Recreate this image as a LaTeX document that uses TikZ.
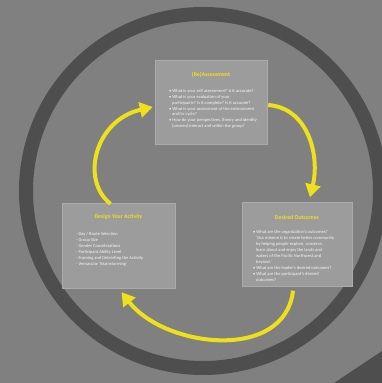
\documentclass[tikz,border=0pt]{standalone}
\usepackage{fontspec}
\setmainfont{Carlito}
\usetikzlibrary{arrows.meta}

\definecolor{bggray}{HTML}{808080}
\definecolor{ringgray}{HTML}{4E4E4E}
\definecolor{boxgray}{HTML}{9C9C9C}
\definecolor{cycleyellow}{HTML}{EEE01A}

\tikzset{
    box/.style={fill=boxgray, draw=boxgray!85!white, line width=.4pt, inner sep=0pt},
    boxtitle/.style={text=cycleyellow, font=\fontsize{5.8}{6.5}\selectfont\bfseries, inner sep=0pt},
    boxtext/.style={text=white!94!gray, font=\fontsize{4.5}{5.9}\selectfont, align=left, anchor=north west, inner sep=0pt},
    cyclearrow/.style={draw=cycleyellow, line width=4pt, -{Triangle[width=15pt,length=13pt]}},
}

\begin{document}
\begin{tikzpicture}[x=1pt, y=-1pt]
    \useasboundingbox (0,0) rectangle (382,383);
    \fill[bggray] (0,0) rectangle (382,383);

    % outer ring and the corner of the next one
    \draw[ringgray, line width=14pt] (203,191) circle (177pt);
    \fill[ringgray] (334,383) -- (382,351) -- (382,383) -- cycle;

    % the three stages
    \node[box, minimum width=112pt, minimum height=84pt] (reassess) at (211,102) {};
    \node[box, minimum width=113pt, minimum height=85pt] (design) at (118.5,245.5) {};
    \node[box, minimum width=110pt, minimum height=84pt] (outcomes) at (297,244.5) {};

    \node[boxtitle] (reassesstitle) at (211,75) {(Re)Assessment};
    \node[boxtitle] (designtitle) at (118.5,217) {Design Your Activity};
    \node[boxtitle] (outcomestitle) at (297,217) {Desired Outcomes};

    \node[boxtext] (reassesstext) at (169,89) {%
        • What is your self assessment? Is it accurate?\\
        • What is your evaluation of your\\
        \hspace*{3pt}participants? Is it complete? Is it accurate?\\
        • What is your assessment of the environment\\
        \hspace*{3pt}and/or cycle?\\
        • How do your perspectives, theory and identity\\
        \hspace*{3pt}(unseen) interact and within the group?};

    \node[boxtext] (designtext) at (76,232.5) {%
        - Day / Route Selection\\
        - Group Size\\
        - Gender Considerations\\
        - Participant Ability Level\\
        - Framing and Debriefing the Activity\\
        - Vernacular `Brainstorming'};

    \node[boxtext] (outcomestext) at (253,230.5) {%
        • What are the organization's outcomes?\\
        \hspace*{3pt}`Our mission is to create better community\\
        \hspace*{3pt}by helping people explore, conserve,\\
        \hspace*{3pt}learn about and enjoy the lands and\\
        \hspace*{3pt}waters of the Pacific Northwest and\\
        \hspace*{3pt}beyond.'\\
        • What are the leader's desired outcomes?\\
        • What are the participant's desired\\
        \hspace*{3pt}outcomes?};

    % the cycle
    \draw[cyclearrow] ([xshift=1pt,yshift=-3pt]reassess.east) .. controls (308,108) and (320,155) .. ([xshift=13pt,yshift=5pt]outcomes.north);
    \draw[cyclearrow] ([xshift=-4pt,yshift=-4pt]outcomes.south) .. controls (285,362) and (165,348) .. ([xshift=3pt,yshift=-4pt]design.south);
    \draw[cyclearrow] ([xshift=-8pt,yshift=-1pt]design.north) .. controls (80,180) and (95,120) .. ([xshift=-2pt,yshift=-5pt]reassess.west);
\end{tikzpicture}
\end{document}
